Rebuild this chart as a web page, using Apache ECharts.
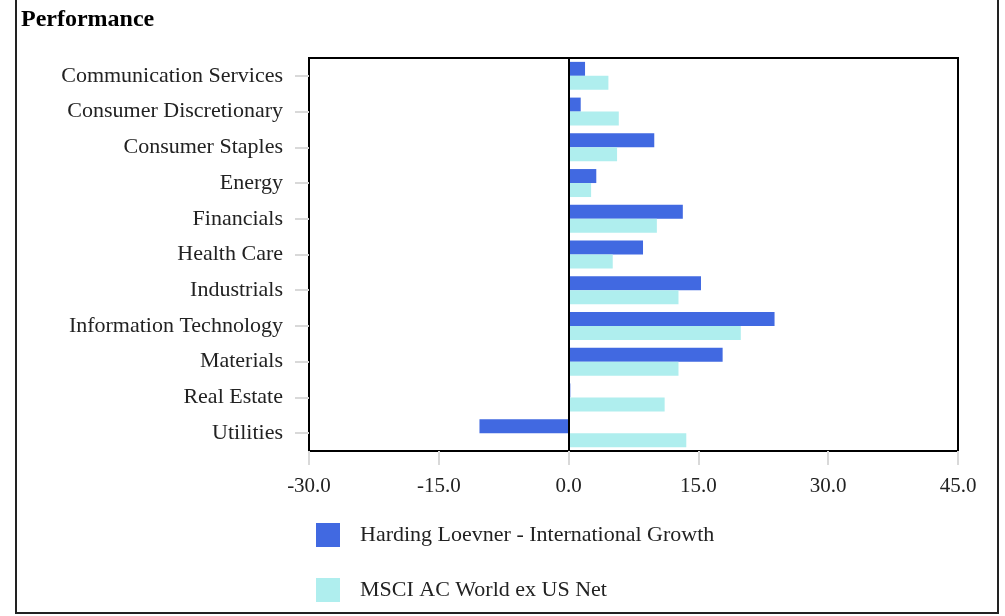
<!DOCTYPE html>
<html>
<head>
<meta charset="utf-8">
<script src="https://cdn.jsdelivr.net/npm/echarts@6/dist/echarts.min.js"></script>
<style>
  html, body { margin: 0; padding: 0; background: #fff; }
  #chart { width: 1005px; height: 616px; }
</style>
</head>
<body>
<div id="chart"></div>
<script>
// sector names, top to bottom
const sectors = [
  'Communication Services', 'Consumer Discretionary', 'Consumer Staples', 'Energy',
  'Financials', 'Health Care', 'Industrials', 'Information Technology',
  'Materials', 'Real Estate', 'Utilities'
];
const fundName = 'Harding Loevner - International Growth';
const benchName = 'MSCI AC World ex US Net';
const fundValues = [1.9, 1.4, 9.9, 3.2, 13.2, 8.6, 15.3, 23.8, 17.8, 0.2, -10.3];
const benchValues = [4.6, 5.8, 5.6, 2.6, 10.2, 5.1, 12.7, 19.9, 12.7, 11.1, 13.6];

const serif = '"Liberation Serif", "DejaVu Serif", serif';
const chart = echarts.init(document.getElementById('chart'));

chart.setOption({
  animation: false,
  title: {
    text: 'Performance',
    left: 16, top: 3,
    textStyle: { fontFamily: serif, fontWeight: 'bold', fontSize: 24, color: '#000' }
  },
  graphic: [{
    type: 'rect',
    shape: { x: 16, y: -4, width: 982, height: 617 },
    style: { fill: 'none', stroke: '#222', lineWidth: 2 },
    silent: true
  }],
  legend: {
    orient: 'vertical',
    left: 311, top: 518,
    itemWidth: 24, itemHeight: 24, itemGap: 31,
    icon: 'rect',
    textStyle: { fontFamily: serif, fontSize: 22, color: '#222', padding: [0, 0, 0, 15] },
    data: [fundName, benchName]
  },
  grid: {
    left: 309, right: 47, top: 58, bottom: 165,
    show: true, borderColor: '#000', borderWidth: 2,
    containLabel: false
  },
  xAxis: {
    type: 'value',
    min: -30, max: 45, interval: 15,
    splitLine: { show: false },
    axisLine: { show: false },
    axisTick: { show: true, length: 14, lineStyle: { color: '#d9d9d9', width: 2 } },
    axisLabel: {
      margin: 25,
      fontFamily: serif, fontSize: 21, color: '#222',
      formatter: v => v.toFixed(1)
    }
  },
  yAxis: {
    type: 'category',
    inverse: true,
    data: sectors,
    axisLine: { show: false, onZero: false },
    axisTick: { show: true, alignWithLabel: true, length: 14, lineStyle: { color: '#d9d9d9', width: 2 } },
    axisLabel: { margin: 26, fontFamily: serif, fontSize: 22, color: '#222' }
  },
  series: [
    {
      name: fundName,
      type: 'bar',
      data: fundValues,
      barWidth: 14,
      barGap: '0%',
      itemStyle: { color: '#4169E1' },
      markLine: {
        silent: true,
        symbol: 'none',
        label: { show: false },
        lineStyle: { color: '#000', width: 2, type: 'solid' },
        data: [{ xAxis: 0 }]
      }
    },
    {
      name: benchName,
      type: 'bar',
      data: benchValues,
      barWidth: 14,
      itemStyle: { color: '#AFEEEE' }
    }
  ]
});
</script>
</body>
</html>
